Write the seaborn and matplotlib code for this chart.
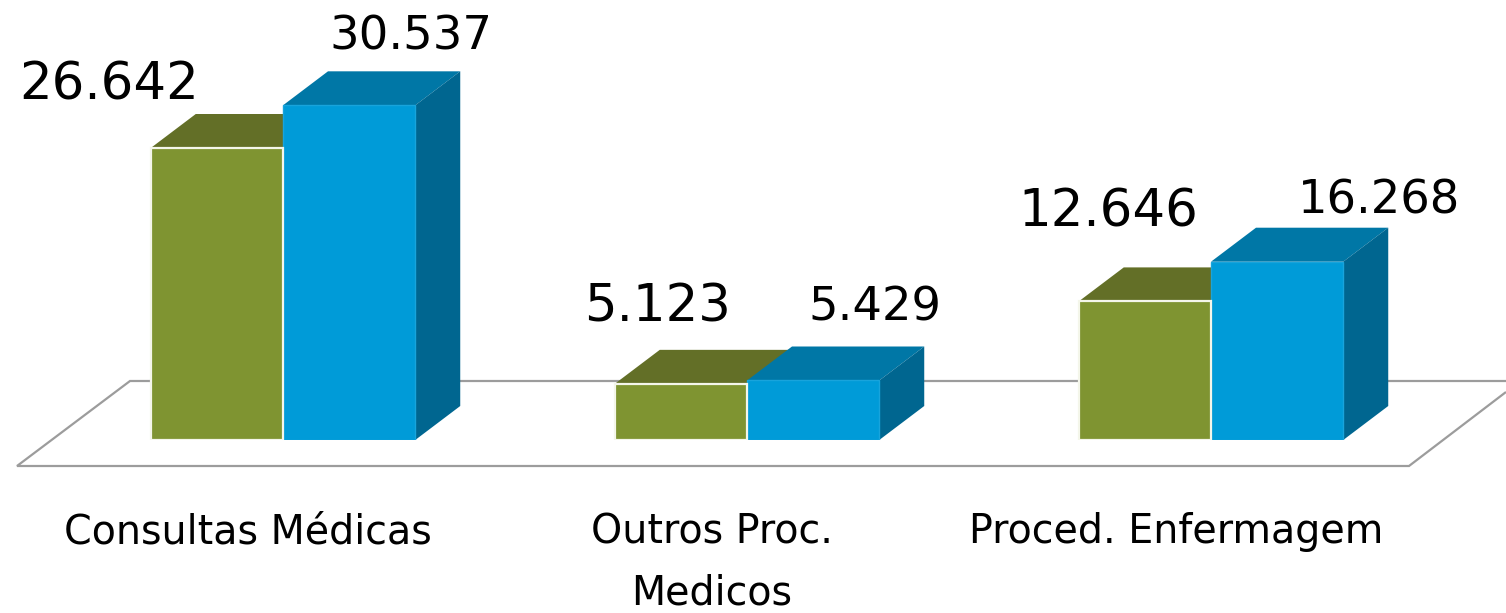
import pandas as pd
import seaborn as sns
import matplotlib.pyplot as plt
from matplotlib.patches import Polygon
from matplotlib.transforms import ScaledTranslation

categories = ["Consultas Médicas", "Outros Proc.\nMedicos", "Proced. Enfermagem"]
series_a = [26642, 5123, 12646]
series_b = [30537, 5429, 16268]
labels_a = ["26.642", "5.123", "12.646"]
labels_b = ["30.537", "5.429", "16.268"]

W, H = 1506, 613
BASE_Y = 440
PX_PER_UNIT = 0.01096
CAT_W = 464
DX, DY = 45, 34
LINE_C = "#9c9c9c"

df = pd.DataFrame({
    "cat": categories * 2,
    "serie": ["a"] * 3 + ["b"] * 3,
    "valor": series_a + series_b,
})

sns.set_style("white")
fig = plt.figure(figsize=(W / 100, H / 100), dpi=100)
ax = fig.add_axes([51 / W, (H - BASE_Y) / H, 3 * CAT_W / W, BASE_Y / H])

sns.barplot(
    data=df, x="cat", y="valor", hue="serie",
    palette={"a": "#7f9431", "b": "#009bd8"},
    width=0.57, saturation=1, legend=False, errorbar=None,
    ax=ax, zorder=3,
)
ax.set_ylim(0, BASE_Y / PX_PER_UNIT)
ax.set_xlim(-0.5, 2.5)
ax.set_xlabel("")
ax.set_ylabel("")
ax.set_yticks([])
sns.despine(ax=ax, left=True, bottom=True)
ax.patch.set_alpha(0)
ax.tick_params(axis="x", length=0, pad=52, labelsize=28.5, colors="black")
shift = ScaledTranslation(-35 / 100, 0, fig.dpi_scale_trans)
for t in ax.get_xticklabels():
    t.set_linespacing(1.7)
    t.set_va("top")
    t.set_transform(t.get_transform() + shift)

# chao do grafico
floor = [(1506, 392), (1409, 466), (17, 466), (130, 381), (150, 381)]
fig.add_artist(Polygon(
    [(x / W, 1 - y / H) for x, y in floor], closed=False, fill=False,
    edgecolor=LINE_C, linewidth=1.6, transform=fig.transFigure, zorder=0,
))
fig.add_artist(plt.Line2D([150 / W, 1506 / W], [1 - 381 / H, 1 - 381 / H],
                          color=LINE_C, linewidth=1.6, zorder=0))

# faces de cima e do lado, a partir das barras
ddx = DX / CAT_W
ddy = DY / PX_PER_UNIT
shades = [("#636f27", "#636f27"), ("#0077a6", "#006690")]
bars = [p for p in ax.patches if p.get_height() > 0]
for i, bar in enumerate(bars):
    top_c, side_c = shades[i // 3]
    x0, x1, h = bar.get_x(), bar.get_x() + bar.get_width(), bar.get_height()
    z = 1 if i < 3 else 2
    ax.add_patch(Polygon([(x0, h), (x1, h), (x1 + ddx, h + ddy), (x0 + ddx, h + ddy)],
                         facecolor=top_c, edgecolor="none", zorder=z, clip_on=False))
    ax.add_patch(Polygon([(x1, 0), (x1, h), (x1 + ddx, h + ddy), (x1 + ddx, ddy)],
                         facecolor=side_c, edgecolor="none", zorder=z, clip_on=False))
    # so a barra verde tem contorno claro
    if i < 3:
        bar.set_zorder(z + 2)
        bar.set_edgecolor("#f4f6ea")
        bar.set_linewidth(1.6)
    else:
        bar.set_zorder(z + 0.5)
        bar.set_edgecolor("#18a4dc")
        bar.set_linewidth(1.0)

# rotulos: deslocamento em pixels a partir do topo da barra
offsets = [(-108, 63), (-23, 76), (-37, 89), (62, 68), (62, 72), (102, 61)]
sizes = [37, 37, 37, 33.5, 33.5, 33.5]
for bar, txt, off, fs in zip(bars, labels_a + labels_b, offsets, sizes):
    ax.annotate(txt, (bar.get_x() + bar.get_width() / 2, bar.get_height()),
                xytext=(off[0] * 0.72, off[1] * 0.72), textcoords="offset points",
                ha="center", va="center", fontsize=fs, color="black", annotation_clip=False)

fig.savefig("out.png", dpi=100)
